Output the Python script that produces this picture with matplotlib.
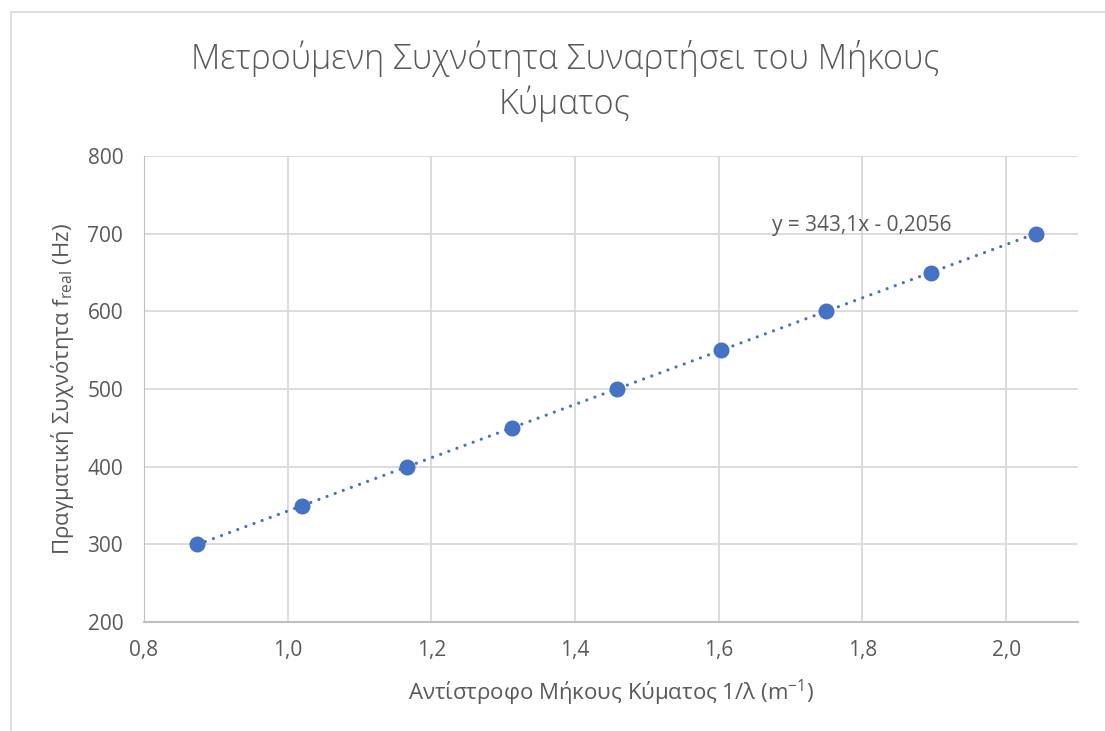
import matplotlib.pyplot as plt
from matplotlib.patches import Rectangle
from matplotlib.ticker import FuncFormatter
import numpy as np

# measured points: inverse wavelength (1/m) vs real frequency (Hz)
inv_lambda = [0.874, 1.020, 1.166, 1.312, 1.458, 1.603, 1.749, 1.895, 2.041]
f_real = [300, 350, 400, 450, 500, 550, 600, 650, 700]

# linear trendline as reported on the chart
slope = 343.1
intercept = -0.2056

x_ticks = [0.8, 1.0, 1.2, 1.4, 1.6, 1.8, 2.0]
y_ticks = [200, 300, 400, 500, 600, 700, 800]

blue = '#4472C4'
grey_text = '#595959'
grid_col = '#D9D9D9'

plt.rcParams['font.family'] = ['Open Sans', 'DejaVu Sans']
plt.rcParams['mathtext.fontset'] = 'custom'
plt.rcParams['mathtext.rm'] = 'Open Sans'
plt.rcParams['mathtext.it'] = 'Open Sans'

fig = plt.figure(figsize=(11.05, 7.31), dpi=100)
ax = fig.add_axes([144 / 1105, 1 - 622 / 731, (1078 - 144) / 1105, (622 - 156) / 731])

# chart area border
fig.patches.append(Rectangle((11 / 1105, -0.01), 1.0, 1 - 12 / 731 + 0.01,
                             transform=fig.transFigure, fill=False,
                             edgecolor='#D9D9D9', linewidth=1.2))

xs = np.array([min(inv_lambda), max(inv_lambda)])
ax.plot(xs, slope * xs + intercept, linestyle=(0, (0.01, 2.7)), color=blue,
        linewidth=2.3, dash_capstyle='round', zorder=2)
ax.plot(inv_lambda, f_real, 'o', color=blue, markersize=10.5, zorder=3)

ax.text(1.674, 711, 'y = 343,1x - 0,2056', fontsize=15, color=grey_text,
        va='center', ha='left')

ax.set_xlim(0.8, 2.1)
ax.set_ylim(200, 800)
ax.set_xticks(x_ticks)
ax.set_yticks(y_ticks)
ax.xaxis.set_major_formatter(FuncFormatter(lambda v, p: f'{v:.1f}'.replace('.', ',')))
ax.grid(True, color=grid_col, linewidth=1.3)
ax.set_axisbelow(True)
ax.tick_params(length=0, labelsize=15, labelcolor=grey_text)
ax.tick_params(axis='x', pad=13)
ax.tick_params(axis='y', pad=15)
for side in ['top', 'right']:
    ax.spines[side].set_visible(False)
ax.spines['left'].set_color('#BFBFBF')
ax.spines['bottom'].set_color('#BFBFBF')
ax.spines['bottom'].set_linewidth(1.5)

ax.set_xlabel('Αντίστροφο Μήκους Κύματος 1/λ (m$^{-1}$)', fontsize=16,
              color=grey_text, labelpad=12)
ax.set_ylabel('Πραγματική Συχνότητα f$_{\\mathrm{real}}$ (Hz)', fontsize=16,
              color=grey_text, labelpad=8)

fig.text(565 / 1105, 1 - 81 / 731,
         'Μετρούμενη Συχνότητα Συναρτήσει του Μήκους\nΚύματος',
         fontsize=24.5, color=grey_text, ha='center', va='center',
         fontweight='light', linespacing=1.3)

fig.savefig('out.png', dpi=100, facecolor='white')
